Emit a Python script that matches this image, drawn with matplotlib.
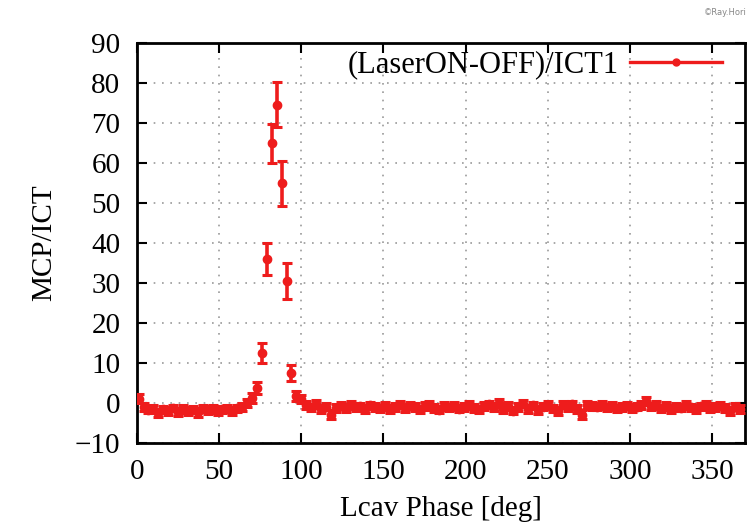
import numpy as np
import matplotlib
matplotlib.use('Agg')
import matplotlib.pyplot as plt
from matplotlib.lines import Line2D

# Lcav phase scan, one point every 3 deg
phase = np.arange(1, 370, 3)

signal = [
    1.0, -1.2, -1.8, -1.5, -2.6, -1.7, -2.0, -1.4, -2.3, -1.6,
    -2.1, -1.8, -2.4, -1.5, -1.9, -1.6, -2.2, -1.7, -1.5, -2.0,
    -1.4, -1.0, -0.2, 1.2, 3.6, 12.5, 35.8, 64.8, 74.5, 54.8,
    30.3, 7.3, 1.6, 0.8, -0.6, -1.2, -0.4, -1.6, -1.0, -3.0,
    -1.4, -0.8, -1.3, -0.6, -1.2, -0.9, -1.5, -0.7, -1.1, -1.4,
    -0.9, -1.6, -1.0, -0.5, -1.3, -0.8, -1.1, -1.7, -0.9, -0.6,
    -1.4, -1.8, -0.8, -1.2, -0.9, -1.5, -1.1, -0.6, -1.3, -1.7,
    -0.9, -0.4, -1.2, 0.0, -1.6, -0.8, -2.0, -1.0, -0.3, -1.5,
    -0.7, -1.8, -1.0, -0.6, -1.4, -2.0, -0.5, -1.1, -0.4, -1.6,
    -3.0, -0.6, -0.8, -1.0, -0.7, -1.2, -0.9, -1.4, -1.1, -0.8,
    -1.3, -1.0, -0.6, 0.4, -0.9, -0.5, -1.4, -0.8, -1.6, -1.0,
    -1.3, -0.7, -1.2, -1.5, -0.9, -0.6, -1.4, -1.0, -0.8, -1.3,
    -2.0, -1.0, -1.6,
]

error = [
    1.2, 1.0, 0.9, 1.0, 1.1, 0.9, 1.0, 0.8, 1.0, 0.9,
    1.0, 0.9, 1.1, 0.9, 1.0, 0.9, 1.0, 0.9, 0.9, 1.0,
    0.9, 1.0, 1.0, 1.2, 1.5, 2.5, 4.0, 4.8, 5.6, 5.6,
    4.5, 2.0, 1.2, 1.0, 1.0, 0.9, 1.0, 1.0, 0.9, 1.2,
    1.0, 0.9, 1.0, 0.9, 1.0, 0.9, 1.0, 0.9, 1.0, 0.9,
    1.0, 0.9, 1.0, 0.9, 1.0, 0.9, 1.0, 0.9, 1.0, 0.9,
    1.0, 0.9, 1.0, 0.9, 1.0, 0.9, 1.0, 0.9, 1.0, 0.9,
    1.0, 0.9, 1.0, 1.0, 0.9, 1.0, 0.9, 1.0, 0.9, 1.0,
    0.9, 1.0, 0.9, 1.0, 0.9, 1.0, 0.9, 1.0, 0.9, 1.0,
    1.2, 0.9, 1.0, 0.9, 1.0, 0.9, 1.0, 0.9, 1.0, 0.9,
    1.0, 0.9, 1.0, 1.1, 0.9, 1.0, 0.9, 1.0, 0.9, 1.0,
    0.9, 1.0, 0.9, 1.0, 0.9, 1.0, 0.9, 1.0, 0.9, 1.0,
    1.0, 0.9, 1.0,
]

xticks = [0, 50, 100, 150, 200, 250, 300, 350]
yticks = [-10, 0, 10, 20, 30, 40, 50, 60, 70, 80, 90]

plt.rcParams['font.family'] = ['Liberation Serif', 'DejaVu Serif']

fig = plt.figure(figsize=(7.51, 5.27), dpi=100)
ax = fig.add_axes([0.1824, 0.160, 0.8096, 0.759])

red = '#ee1c1c'
ax.errorbar(phase, signal, yerr=error, fmt='o', color=red, ms=6,
            elinewidth=2.6, capsize=3.5, capthick=2.2, zorder=3)

ax.set_xlim(0, 370)
ax.set_ylim(-10, 90)
ax.set_xticks(xticks)
ax.set_yticks(yticks)
ax.grid(True, color='#999999', linestyle=(0, (1, 4)), linewidth=1.2)
ax.tick_params(direction='in', length=7, width=1.5, top=True, right=True,
               labelsize=21, pad=12)
for s in ax.spines.values():
    s.set_linewidth(2)

ax.set_xlabel('Lcav Phase [deg]', fontsize=21, labelpad=8)
ax.set_ylabel('MCP/ICT', fontsize=21, labelpad=13)

handle = Line2D([], [], color=red, lw=2.4, marker='o', ms=5)
ax.legend([handle], ['(LaserON-OFF)/ICT1'], loc='upper right',
          frameon=False, markerfirst=False, handlelength=3.0,
          fontsize=22, borderaxespad=0.05, borderpad=0.2,
          handletextpad=0.4, bbox_to_anchor=(0.975, 1.0))

fig.text(0.995, 0.985, '©Ray.Hori', fontsize=6, color='#888888',
         ha='right', va='top', family='DejaVu Sans')

fig.savefig('out.png', dpi=100)
